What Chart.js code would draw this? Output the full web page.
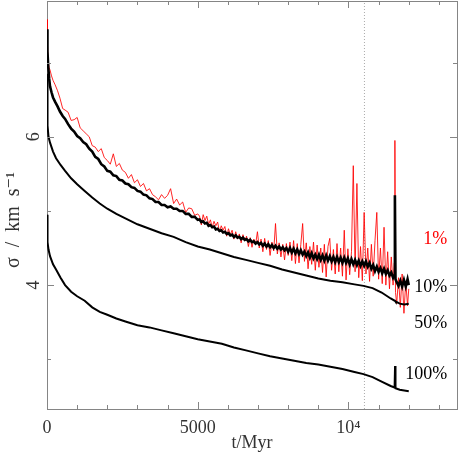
<!DOCTYPE html>
<html>
<head>
<meta charset="utf-8">
<script src="https://cdn.jsdelivr.net/npm/chart.js@4.4.1/dist/chart.umd.min.js"></script>
<style>
  html, body { margin: 0; padding: 0; background: #fff; }
  canvas { display: block; }
</style>
</head>
<body>
<canvas id="sigmaChart" width="458" height="454"></canvas>
<script>
// t in Myr, sigma in km/s
var tNoisy = [
    0, 15, 40, 70, 100, 150, 200, 270, 350, 430,
    520, 600, 700, 800, 900, 1000, 1100, 1200, 1300, 1400,
    1500, 1600, 1700, 1800, 1900, 2000, 2100, 2200, 2300, 2400,
    2500, 2600, 2700, 2800, 2900, 3000, 3100, 3200, 3300, 3400,
    3500, 3600, 3700, 3800, 3900, 4000, 4100, 4200, 4300, 4400,
    4500, 4600, 4700, 4800, 4900, 5000, 5060, 5120, 5180, 5240,
    5300, 5360, 5420, 5480, 5540, 5600, 5660, 5720, 5780, 5840,
    5900, 5960, 6020, 6080, 6140, 6200, 6260, 6320, 6380, 6440,
    6500, 6560, 6620, 6680, 6740, 6800, 6860, 6920, 6980, 7040,
    7100, 7160, 7220, 7280, 7340, 7400, 7460, 7520, 7580, 7640,
    7700, 7760, 7820, 7880, 7940, 8000, 8060, 8120, 8180, 8240,
    8300, 8360, 8420, 8480, 8540, 8600, 8660, 8720, 8780, 8840,
    8900, 8960, 9020, 9080, 9140, 9200, 9260, 9320, 9380, 9440,
    9500, 9560, 9620, 9680, 9740, 9800, 9860, 9920, 9980, 10040,
    10100, 10160, 10220, 10280, 10340, 10400, 10460, 10520, 10580, 10640,
    10700, 10760, 10820, 10880, 10940, 11000, 11060, 11120, 11180, 11240,
    11300, 11360, 11420, 11480, 11520, 11540, 11560, 11600, 11660, 11720,
    11780, 11840, 11900, 11960, 12000
];
var sigma1 = [
    7.58, 7.25, 7.02, 6.93, 6.90, 6.82, 6.76, 6.70, 6.62, 6.52,
    6.38, 6.36, 6.33, 6.22, 6.23, 6.26, 6.12, 6.08, 6.04, 6.00,
    5.88, 5.86, 5.80, 5.84, 5.72, 5.68, 5.63, 5.77, 5.60, 5.64,
    5.55, 5.52, 5.44, 5.49, 5.38, 5.42, 5.33, 5.37, 5.27, 5.30,
    5.22, 5.19, 5.15, 5.22, 5.17, 5.21, 5.30, 5.10, 5.16, 5.08,
    5.12, 4.98, 5.04, 5.03, 4.94, 4.96, 4.93, 4.81, 4.95, 4.87,
    4.93, 4.82, 4.88, 4.78, 4.86, 4.80, 4.85, 4.72, 4.80, 4.74,
    4.79, 4.66, 4.76, 4.68, 4.74, 4.62, 4.72, 4.62, 4.69, 4.57,
    4.68, 4.60, 4.66, 4.52, 4.64, 4.51, 4.62, 4.55, 4.72, 4.50,
    4.62, 4.45, 4.63, 4.48, 4.60, 4.40, 4.58, 4.46, 4.83, 4.42,
    4.57, 4.38, 4.55, 4.34, 4.56, 4.40, 4.58, 4.33, 4.60, 4.29,
    4.56, 4.30, 4.55, 4.83, 4.32, 4.57, 4.22, 4.52, 4.28, 4.58,
    4.20, 4.54, 4.24, 4.50, 4.17, 4.55, 4.11, 4.52, 4.63, 4.20,
    4.48, 4.15, 4.56, 4.18, 4.50, 4.12, 4.74, 4.07, 4.49, 4.14,
    4.45, 5.61, 4.18, 5.37, 4.10, 4.52, 4.06, 4.98, 4.15, 4.50,
    4.05, 4.55, 4.12, 4.60, 4.98, 4.08, 4.50, 4.02, 4.78, 4.00,
    4.45, 3.95, 4.38, 4.00, 4.30, 5.95, 3.90, 3.75, 4.10, 3.70,
    4.15, 3.62, 4.05, 3.72, 3.95
];
var sigma10 = [
    7.45, 7.15, 6.95, 6.79, 6.68, 6.60, 6.53, 6.47, 6.41, 6.34,
    6.28, 6.24, 6.17, 6.11, 6.07, 6.01, 5.98, 5.93, 5.90, 5.84,
    5.80, 5.73, 5.70, 5.63, 5.60, 5.54, 5.53, 5.48, 5.47, 5.42,
    5.41, 5.37, 5.36, 5.32, 5.31, 5.27, 5.26, 5.22, 5.21, 5.17,
    5.16, 5.12, 5.12, 5.08, 5.08, 5.05, 5.06, 5.03, 5.03, 5.00,
    5.00, 4.96, 4.96, 4.92, 4.92, 4.88, 4.885, 4.85, 4.86, 4.83,
    4.84, 4.80, 4.81, 4.78, 4.79, 4.75, 4.76, 4.73, 4.74, 4.71,
    4.72, 4.69, 4.70, 4.67, 4.68, 4.65, 4.67, 4.64, 4.65, 4.62,
    4.64, 4.61, 4.62, 4.59, 4.61, 4.58, 4.59, 4.56, 4.58, 4.55,
    4.57, 4.53, 4.56, 4.52, 4.55, 4.51, 4.54, 4.50, 4.53, 4.49,
    4.52, 4.48, 4.51, 4.47, 4.50, 4.45, 4.50, 4.44, 4.49, 4.43,
    4.48, 4.42, 4.47, 4.41, 4.45, 4.39, 4.44, 4.37, 4.43, 4.36,
    4.41, 4.35, 4.41, 4.34, 4.40, 4.33, 4.40, 4.33, 4.39, 4.32,
    4.38, 4.31, 4.38, 4.31, 4.37, 4.30, 4.37, 4.30, 4.36, 4.28,
    4.35, 4.28, 4.34, 4.27, 4.33, 4.26, 4.32, 4.26, 4.32, 4.25,
    4.30, 4.22, 4.27, 4.19, 4.25, 4.18, 4.23, 4.16, 4.22, 4.15,
    4.20, 4.13, 4.17, 4.10, 4.13, 5.21, 4.08, 4.04, 3.99, 4.06,
    3.98, 4.07, 3.98, 4.08, 4.00
];

var tSmooth = [
    0, 10, 25, 50, 100, 200, 300, 450, 600, 800,
    1000, 1250, 1500, 1750, 2000, 2300, 2600, 3000, 3400, 3800,
    4200, 4600, 5000, 5400, 5800, 6200, 6600, 7000, 7400, 7800,
    8200, 8600, 9000, 9400, 9800, 10200, 10500, 10800, 11100, 11400,
    11530, 11545, 11560, 11700, 11850, 12000
];
var sigma50 = [
    6.85, 6.40, 6.15, 6.00, 5.92, 5.80, 5.71, 5.62, 5.54, 5.44,
    5.36, 5.27, 5.18, 5.10, 5.03, 4.96, 4.90, 4.82, 4.76, 4.70,
    4.65, 4.58, 4.52, 4.48, 4.43, 4.38, 4.34, 4.30, 4.26, 4.21,
    4.17, 4.13, 4.09, 4.06, 4.04, 4.01, 3.99, 3.96, 3.90, 3.82,
    3.79, 3.79, 3.78, 3.75, 3.74, 3.75
];
var sigma100 = [
    4.95, 4.72, 4.58, 4.48, 4.39, 4.28, 4.21, 4.10, 4.00, 3.91,
    3.85, 3.79, 3.70, 3.64, 3.60, 3.55, 3.51, 3.46, 3.43, 3.39,
    3.35, 3.31, 3.27, 3.24, 3.21, 3.16, 3.12, 3.08, 3.04, 3.01,
    2.98, 2.95, 2.93, 2.90, 2.87, 2.83, 2.80, 2.76, 2.70, 2.64,
    2.62, 2.91, 2.61, 2.59, 2.58, 2.57
];

var tDivider = 10530;
var xRange = [0, 13600];
var yRange = [2.33, 7.83];
var xTickValues = [0, 1000, 2000, 3000, 4000, 5000, 6000, 7000, 8000, 9000, 10000, 11000, 12000, 13000];
var yTickValues = [3, 4, 5, 6, 7];
var xLabelled = [0, 5000, 10000];
var yLabelled = [4, 6];
var curveNames = ['1%', '10%', '50%', '100%'];

document.addEventListener("DOMContentLoaded", function () {
    var serif = "'Liberation Serif', 'DejaVu Serif', serif";
    var axisFont = { family: serif, size: 18 };
    var textColor = '#333';
    var frameColor = '#858585';

    function points(ts, vs) {
        return ts.map(function (t, i) { return { x: t, y: vs[i] }; });
    }

    // force the plot box to fill the canvas the way the original does
    function fixSize(prop, value) {
        return function (s) {
            s[prop] = value;
            s.paddingLeft = 0; s.paddingRight = 0; s.paddingTop = 0; s.paddingBottom = 0;
        };
    }

    function useTicks(values) {
        return function (s) {
            s.ticks = values.map(function (v) { return { value: v }; });
        };
    }

    var noGrid = { display: false, drawTicks: false };
    var frameBorder = { display: true, color: frameColor, width: 1 };

    // tick marks point inward, on all four sides; labelled ones are longer
    var inwardTicks = {
        id: 'inwardTicks',
        afterDatasetsDraw: function (chart) {
            var c = chart.ctx;
            var a = chart.chartArea;
            var xs = chart.scales.x;
            var ys = chart.scales.y;
            c.save();
            c.strokeStyle = frameColor;
            c.lineWidth = 1;
            c.beginPath();
            xTickValues.forEach(function (v) {
                var px = Math.round(xs.getPixelForValue(v)) + 0.5;
                var len = xLabelled.indexOf(v) >= 0 ? 7 : 4;
                c.moveTo(px, a.bottom); c.lineTo(px, a.bottom - len);
                c.moveTo(px, a.top); c.lineTo(px, a.top + len);
            });
            yTickValues.forEach(function (v) {
                var py = Math.round(ys.getPixelForValue(v)) + 0.5;
                var len = yLabelled.indexOf(v) >= 0 ? 7 : 4;
                c.moveTo(a.left, py); c.lineTo(a.left + len, py);
                c.moveTo(a.right, py); c.lineTo(a.right - len, py);
            });
            c.stroke();
            c.restore();
        }
    };

    // curve names at the right end of each line
    var curveLabelPlugin = {
        id: 'curveLabels',
        afterDatasetsDraw: function (chart) {
            var c = chart.ctx;
            var xs = chart.scales.x;
            var ys = chart.scales.y;
            var anchors = [4.62, 3.97, 3.49, 2.80];
            var colors = ['#ff0000', '#000', '#000', '#000'];
            c.save();
            c.font = '18px ' + serif;
            c.textAlign = 'right';
            c.textBaseline = 'middle';
            curveNames.forEach(function (name, i) {
                c.fillStyle = colors[i];
                c.fillText(name, xs.getPixelForValue(13280), ys.getPixelForValue(anchors[i]));
            });
            c.restore();
        }
    };

    var ctx = document.getElementById('sigmaChart').getContext('2d');
    new Chart(ctx, {
        type: 'line',
        data: {
            datasets: [
                { label: '10%', data: points(tNoisy, sigma10), borderColor: '#000', borderWidth: 2.6 },
                { label: '50%', data: points(tSmooth, sigma50), borderColor: '#000', borderWidth: 2 },
                { label: '100%', data: points(tSmooth, sigma100), borderColor: '#000', borderWidth: 2 },
                { label: '1%', data: points(tNoisy, sigma1), borderColor: 'rgba(255,0,0,0.85)', borderWidth: 1 },
                {
                    label: 'divider',
                    data: [{ x: tDivider, y: yRange[0] }, { x: tDivider, y: yRange[1] }],
                    borderColor: '#aaa', borderWidth: 1, borderDash: [1, 2]
                }
            ]
        },
        options: {
            responsive: false,
            animation: false,
            events: [],
            layout: { padding: 0 },
            elements: { point: { radius: 0 }, line: { tension: 0 } },
            plugins: { legend: { display: false }, tooltip: { enabled: false } },
            scales: {
                x: {
                    type: 'linear', position: 'bottom', min: xRange[0], max: xRange[1],
                    afterBuildTicks: useTicks(xTickValues),
                    afterFit: fixSize('height', 45),
                    border: frameBorder,
                    grid: noGrid,
                    ticks: {
                        autoSkip: false, maxRotation: 0, padding: 8, color: textColor, font: axisFont,
                        callback: function (v) {
                            if (xLabelled.indexOf(v) < 0) return '';
                            return v === 10000 ? '10\u2074' : String(v);
                        }
                    },
                    title: { display: true, text: 't/Myr', color: textColor, font: axisFont, padding: 0 }
                },
                xTop: {
                    type: 'linear', position: 'top', min: xRange[0], max: xRange[1],
                    afterFit: fixSize('height', 1),
                    border: frameBorder,
                    grid: noGrid,
                    ticks: { display: false }
                },
                y: {
                    type: 'linear', position: 'left', min: yRange[0], max: yRange[1],
                    afterBuildTicks: useTicks(yTickValues),
                    afterFit: fixSize('width', 47),
                    border: frameBorder,
                    grid: noGrid,
                    ticks: {
                        minRotation: 90, maxRotation: 90, crossAlign: 'center', padding: 8,
                        color: textColor, font: axisFont,
                        callback: function (v) { return yLabelled.indexOf(v) < 0 ? '' : String(v); }
                    },
                    title: {
                        display: true,
                        text: '\u03c3\u2002/\u2002km\u2002s\u207b\u00b9\u2002\u2002\u2002',
                        color: textColor, font: { family: serif, size: 20 },
                        padding: { top: 2, bottom: 0 }
                    }
                },
                yRight: {
                    type: 'linear', position: 'right', min: yRange[0], max: yRange[1],
                    afterFit: fixSize('width', 1),
                    border: frameBorder,
                    grid: noGrid,
                    ticks: { display: false }
                }
            }
        },
        plugins: [inwardTicks, curveLabelPlugin]
    });
});
</script>
</body>
</html>
